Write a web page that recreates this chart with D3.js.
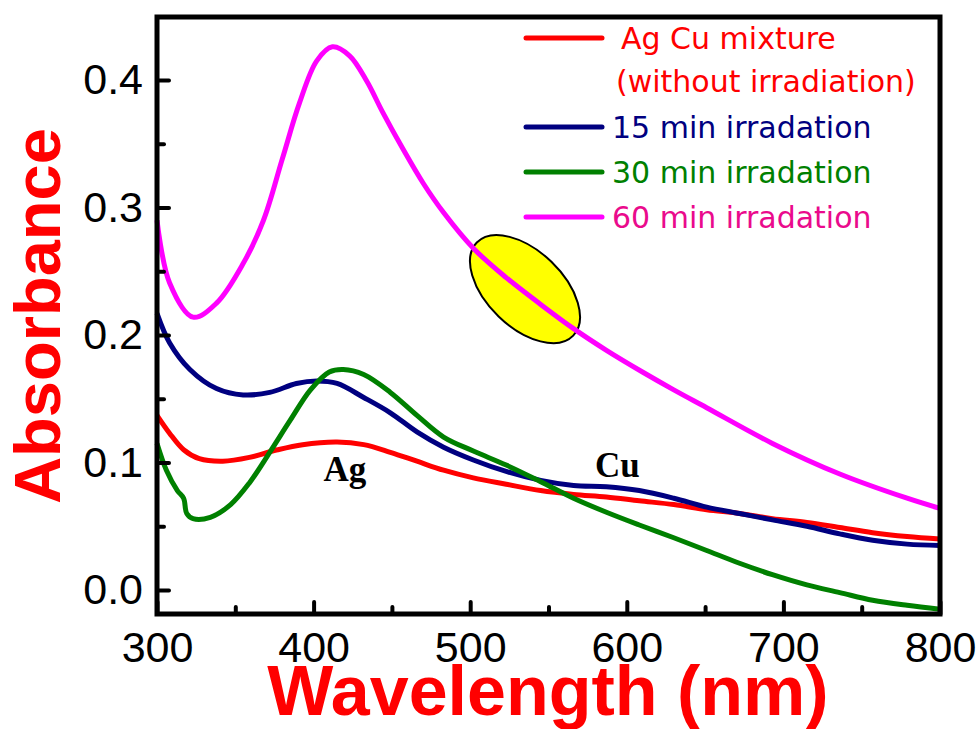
<!DOCTYPE html>
<html><head><meta charset="utf-8">
<script src="https://cdn.jsdelivr.net/npm/d3@7"></script>
<style>body{margin:0;background:#fff}</style>
</head><body><svg id="c" width="978" height="729"></svg>
<script>
// ---- data ----
const xTicks = [300, 400, 500, 600, 700, 800];
const xMinor = [350, 450, 550, 650, 750];
const yTicks = [0.0, 0.1, 0.2, 0.3, 0.4];
const yMinor = [0.05, 0.15, 0.25, 0.35];

const legendLabels = ["Ag Cu mixture", "15 min irradation", "30 min irradation", "60 min irradation"];
const legendSubLabel = "(without irradiation)";

const redWl  = [300,308,317,327,342,359,377,393,415,432,449,466,483,502,523,545,566,587,608,630,651,672,693,715,736,757,779,800];
const redAbs = [0.137,0.123,0.110,0.103,0.101,0.104,0.110,0.114,0.116,0.114,0.108,0.101,0.094,0.088,0.083,0.078,0.075,0.073,0.070,0.067,0.063,0.060,0.056,0.053,0.049,0.045,0.042,0.040];

const blueWl  = [300,308,321,338,355,372,389,402,415,432,449,466,483,502,523,545,566,587,608,630,651,672,693,715,736,757,779,800];
const blueAbs = [0.217,0.194,0.173,0.158,0.153,0.155,0.162,0.164,0.162,0.151,0.139,0.124,0.112,0.102,0.093,0.086,0.082,0.081,0.078,0.072,0.065,0.060,0.055,0.050,0.044,0.039,0.036,0.035];

const greenWl  = [300,306,313,317,319,323,334,347,359,372,385,398,410,419,432,449,466,483,502,523,545,566,587,608,630,651,672,693,715,736,757,779,800];
const greenAbs = [0.115,0.094,0.078,0.072,0.060,0.056,0.057,0.067,0.084,0.108,0.133,0.157,0.171,0.173,0.169,0.155,0.137,0.120,0.109,0.098,0.085,0.072,0.061,0.051,0.041,0.031,0.021,0.012,0.004,-0.002,-0.008,-0.012,-0.015];

const pinkWl  = [300,308,323,338,355,368,380,391,402,412,423,434,444,457,470,483,502,523,545,566,587,610,630,651,693,736,779,800];
const pinkAbs = [0.290,0.241,0.214,0.225,0.256,0.290,0.338,0.382,0.415,0.426,0.419,0.399,0.375,0.346,0.319,0.296,0.268,0.245,0.224,0.205,0.188,0.171,0.157,0.143,0.115,0.091,0.072,0.064];

const peakLabels = ["Ag", "Cu"];
const peakLabelWl = [420, 594];
const peakLabelAbs = [0.0855, 0.0886];

// highlight ellipse (data coordinates of centre)
const ellipseWl = 535, ellipseAbs = 0.236;

// ---- drawing ----
const svg = d3.select("#c");
const x = d3.scaleLinear().domain([300, 800]).range([157, 940]);
const y = d3.scaleLinear().domain([-0.0188, 0.4494]).range([614, 17]);

const series = [
  {wl: redWl, ab: redAbs, color: "#ff0000"},
  {wl: blueWl, ab: blueAbs, color: "#000080"},
  {wl: greenWl, ab: greenAbs, color: "#008000"},
  {wl: pinkWl, ab: pinkAbs, color: "#ff00ff"}
];
const textColors = ["#ff0000", "#000080", "#008000", "#ea0a8c"];

// ellipse under curves
svg.append("ellipse")
  .attr("transform", `translate(${x(ellipseWl)},${y(ellipseAbs)}) rotate(44)`)
  .attr("rx", 67).attr("ry", 38)
  .attr("fill", "#ffff00").attr("stroke", "#000").attr("stroke-width", 2);

const line = d3.line().curve(d3.curveCatmullRom.alpha(0.5));
series.forEach(s => {
  svg.append("path")
    .attr("d", line(s.wl.map((w, i) => [x(w), y(s.ab[i])])))
    .attr("fill", "none").attr("stroke", s.color)
    .attr("stroke-width", 5).attr("stroke-linejoin", "round").attr("stroke-linecap", "butt");
});

// axes
const fontTick = "'Liberation Sans Narrow', 'Arial Narrow', 'Liberation Sans', Arial, sans-serif";
const gx = svg.append("g").attr("transform", `translate(0,${y.range()[0]})`)
  .call(d3.axisBottom(x).tickValues(xTicks).tickSize(-12).tickPadding(17).tickFormat(d3.format("d")));
const gxm = svg.append("g").attr("transform", `translate(0,${y.range()[0]})`)
  .call(d3.axisBottom(x).tickValues(xMinor).tickSize(-7).tickFormat(""));
const gy = svg.append("g").attr("transform", `translate(${x.range()[0]},0)`)
  .call(d3.axisLeft(y).tickValues(yTicks).tickSize(-12).tickPadding(14).tickFormat(d3.format(".1f")));
const gym = svg.append("g").attr("transform", `translate(${x.range()[0]},0)`)
  .call(d3.axisLeft(y).tickValues(yMinor).tickSize(-7).tickFormat(""));
[gx, gxm, gy, gym].forEach(g => {
  g.select(".domain").remove();
  g.selectAll(".tick line").attr("stroke", "#000").attr("stroke-width", 4).attr("stroke-linecap", "round");
  g.selectAll(".tick text").attr("font-family", fontTick).attr("font-size", 43).attr("fill", "#000");
});

// frame
svg.append("rect")
  .attr("x", x.range()[0]).attr("y", y.range()[1])
  .attr("width", x.range()[1] - x.range()[0]).attr("height", y.range()[0] - y.range()[1])
  .attr("fill", "none").attr("stroke", "#000").attr("stroke-width", 5);

// axis titles
svg.append("text").attr("x", 548).attr("y", 715).attr("text-anchor", "middle")
  .attr("font-family", "'Liberation Sans', Arial, sans-serif").attr("font-weight", "bold")
  .attr("font-size", 70).attr("fill", "#ff0000").text("Wavelength (nm)");
svg.append("text").attr("transform", "translate(60,316) rotate(-90)").attr("text-anchor", "middle")
  .attr("font-family", "'Liberation Sans', Arial, sans-serif").attr("font-weight", "bold")
  .attr("font-size", 65).attr("fill", "#ff0000").text("Absorbance");

// peak labels
peakLabels.forEach((t, i) => {
  svg.append("text").attr("x", x(peakLabelWl[i])).attr("y", y(peakLabelAbs[i]))
    .attr("text-anchor", "middle").attr("font-family", "'Liberation Serif', 'Times New Roman', serif")
    .attr("font-weight", "bold").attr("font-size", 35).attr("fill", "#000").text(t);
});

// legend
const legFont = "'DejaVu Sans', Verdana, sans-serif";
const legLineY = [38, 127, 172, 217];
const leg = svg.append("g");
legendLabels.forEach((t, i) => {
  leg.append("line").attr("x1", 526).attr("x2", 602).attr("y1", legLineY[i]).attr("y2", legLineY[i])
    .attr("stroke", series[i].color).attr("stroke-width", 5).attr("stroke-linecap", "round");
  leg.append("text").attr("x", i === 0 ? 621 : 612).attr("y", legLineY[i] + 11)
    .attr("font-family", legFont).attr("font-size", 30).attr("fill", textColors[i]).text(t);
});
leg.append("text").attr("x", 616).attr("y", 92)
  .attr("font-family", legFont).attr("font-size", 30).attr("fill", textColors[0]).text(legendSubLabel);
</script></body></html>
